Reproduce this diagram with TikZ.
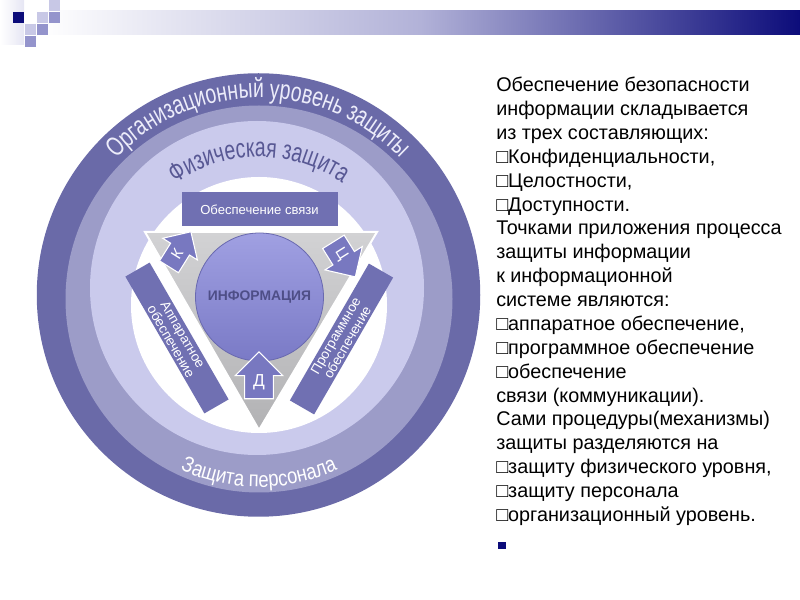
\documentclass[tikz,border=0pt]{standalone}
\usepackage{fontspec}
\setmainfont{Liberation Sans}
\newfontfamily\arcfont[FakeStretch=0.72]{Liberation Sans}
\newfontfamily\arcfontb[FakeStretch=0.84]{Liberation Sans}
\usetikzlibrary{positioning,shapes.arrows,decorations.text}
\definecolor{hdrnavy}{RGB}{12,12,122}
\definecolor{hdrmid}{RGB}{178,178,216}
\definecolor{sqlight}{RGB}{200,200,230}
\definecolor{sqmid}{RGB}{148,148,204}
\definecolor{ringdark}{RGB}{106,106,168}
\definecolor{ringmid}{RGB}{156,156,200}
\definecolor{ringlight}{RGB}{202,202,236}
\definecolor{orgtext}{RGB}{236,236,250}
\definecolor{phystext}{RGB}{88,88,148}
\definecolor{boxfill}{RGB}{112,112,178}
\definecolor{tagfill}{RGB}{120,120,192}
\definecolor{balltop}{RGB}{160,160,226}
\definecolor{ballbot}{RGB}{122,122,198}
\definecolor{ballline}{RGB}{105,105,175}
\definecolor{infotext}{RGB}{78,78,135}
\definecolor{tritop}{RGB}{210,210,212}
\definecolor{tribot}{RGB}{178,178,180}

\begin{document}
\begin{tikzpicture}[x=0.75pt, y=0.75pt,
      tile/.style={minimum size=8.25pt, inner sep=0pt},
      ball/.style={circle, minimum size=96pt, inner sep=0pt, draw=ballline,
                   line width=0.6pt, top color=balltop, bottom color=ballbot,
                   text=infotext, font=\bfseries\fontsize{10.4}{12}\selectfont},
      linkbox/.style={fill=boxfill, text=white, minimum width=117pt,
                      minimum height=25.5pt, inner sep=0pt,
                      font=\fontsize{9.8}{11}\selectfont},
      sidebox/.style={fill=boxfill, text=white, align=center, minimum width=118.5pt,
                      minimum height=21pt, inner sep=0pt,
                      font=\fontsize{10.2}{10.2}\selectfont},
      tagarrow/.style={single arrow, single arrow head indent=0pt,
                       single arrow head extend=7pt, fill=tagfill, draw=white,
                       line width=0.8pt, text=white, inner sep=4pt,
                       minimum width=30pt, minimum height=31pt,
                       font=\fontsize{11.5}{13}\selectfont},
      ringtext/.style={decorate, decoration={text along path, text align=center,
                       text color=#1}},
      desctext/.style={align=left, inner sep=0pt,
                       font=\fontsize{14.85}{17.9}\selectfont}]
    \useasboundingbox (0,0) rectangle (800,600);
    \shade[left color=white, right color=sqlight!45] (0,555) rectangle (24,600);
    \shade[left color=white, right color=hdrnavy, middle color=hdrmid]
      (40,565) rectangle (800,589);
    \foreach \x/\y/\c [count=\i] in {18/582/hdrnavy, 54/594/sqlight, 54/582/sqmid,
        42/582/sqlight, 30/570/sqlight, 42/570/sqmid, 30/558/sqmid}
      \node[tile, fill=\c] (tile\i) at (\x,\y) {};

    \coordinate (orgc) at (258.5,305);
    \coordinate (persc) at (259,301);
    \coordinate (physc) at (257,312);
    \coordinate (physt) at (259,297);
    \coordinate (core) at (259,295);
    \fill[ringdark] (orgc) circle[radius=221.75];
    \fill[ringmid] (persc) circle[radius=193.5];
    \fill[ringlight] (physc) circle[radius=167];
    \fill[white] (core) circle[radius=128];

    \path[ringtext=orgtext, shift={(orgc)},
      decoration={text={|\arcfont\fontsize{20.25}{24}\selectfont|Организационный уровень защиты}}]
      (180:197) arc[start angle=180, end angle=0, radius=197];
    \path[ringtext=phystext, shift={(physt)},
      decoration={text={|\arcfont\fontsize{20.25}{24}\selectfont|Физическая защита}}]
      (180:146) arc[start angle=180, end angle=0, radius=146];
    \path[ringtext=white, shift={(persc)},
      decoration={text={|\arcfontb\fontsize{16.5}{20}\selectfont|Защита персонала}}]
      (200:188) arc[start angle=200, end angle=340, radius=188];

    \coordinate (tl) at (145,368);
    \coordinate (tr) at (377,368);
    \coordinate (tb) at (259,170);
    \shadedraw[top color=tritop, bottom color=tribot, draw=white, line width=1.5pt]
      (tl) -- (tr) -- (tb) -- cycle;

    \node[ball] (info) at (259.5,303) {ИНФОРМАЦИЯ};
    \node[linkbox, above=4.5pt of info] (link) {Обеспечение связи};
    \node[sidebox, rotate=-60] (hw) at (177,262) {Аппаратное\\обеспечение};
    \node[sidebox, rotate=60] (sw) at (341.5,261) {Программное\\обеспечение};
    \node[tagarrow, shape border rotate=-90, rotate=58] (conf) at (177,346) {К};
    \node[tagarrow, shape border rotate=-90, rotate=-58] (integ) at (341,346) {Ц};
    \node[tagarrow, shape border rotate=90, inner sep=6pt, single arrow head extend=7pt,
          minimum width=33pt, minimum height=29pt,
          font=\fontsize{13}{14}\selectfont] (avail) at (259,217.5) {Д};

    \node[desctext, anchor=north west] (desc) at (496,523) {Обеспечение безопасности\\
      информации складывается\\
      из трех составляющих:\\
      □Конфиденциальности,\\
      □Целостности,\\
      □Доступности.\\
      Точками приложения процесса\\
      защиты информации\\
      к информационной\\
      системе являются:\\
      □аппаратное обеспечение,\\
      □программное обеспечение\\
      □обеспечение\\
      связи (коммуникации).\\
      Сами процедуры(механизмы)\\
      защиты разделяются на\\
      □защиту физического уровня,\\
      □защиту персонала\\
      □организационный уровень.};
    \node[fill=hdrnavy, minimum width=6pt, minimum height=5.25pt, inner sep=0pt,
          anchor=north west, below right=12pt and 1pt of desc.south west] (mark) {};
  \end{tikzpicture}
\end{document}
